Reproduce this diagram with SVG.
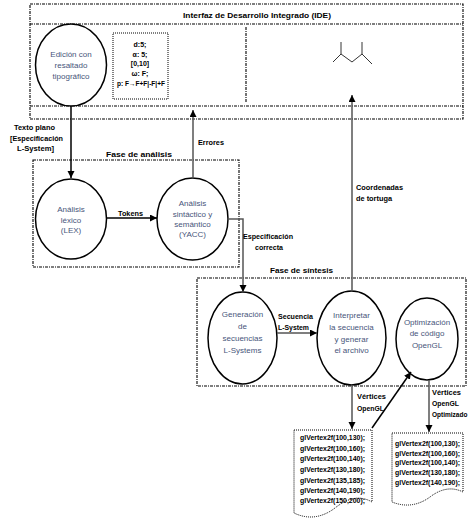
<svg xmlns="http://www.w3.org/2000/svg" width="472" height="524" viewBox="0 0 472 524">
<defs>
<marker id="ah" markerUnits="userSpaceOnUse" markerWidth="8" markerHeight="8" refX="7" refY="3.5" orient="auto">
<path d="M0,0 L7,3.5 L0,7 Z" fill="#000"/>
</marker>
<style>
.box{fill:none;stroke:#000;stroke-width:1.1;stroke-dasharray:3 1 1 1}
.dot{fill:#fff;stroke:#000;stroke-width:1;stroke-dasharray:1 1}
.node{fill:#fff;stroke:#000;stroke-width:1.5}
.nt{font-family:"Liberation Sans",Arial,sans-serif;font-size:8px;fill:#47557a;text-anchor:middle}
.lb{font-family:"Liberation Sans",Arial,sans-serif;font-size:8px;font-weight:bold;fill:#000}
.cd{font-family:"Liberation Sans",Arial,sans-serif;font-size:7px;font-weight:bold;fill:#000}
.c{fill:none;stroke:#555;stroke-width:1.5}
.cb{fill:none;stroke:#000;stroke-width:1.5}
.tree{fill:none;stroke:#000;stroke-width:0.8}
</style>
</defs>

<g id="ide">
<rect class="box" x="30" y="4" width="433" height="115"/>
<line class="box" x1="30" y1="24" x2="463" y2="24"/>
<line class="box" x1="30" y1="106" x2="463" y2="106"/>
<line class="box" x1="246" y1="27" x2="246" y2="103"/>
<text class="lb" x="183" y="18" textLength="148" lengthAdjust="spacingAndGlyphs">Interfaz de Desarrollo Integrado (IDE)</text>
</g>

<g id="edicion">
<ellipse class="node" cx="71" cy="65" rx="35.5" ry="41"/>
<text class="nt" x="71" y="57">Edición con</text>
<text class="nt" x="71" y="68">resaltado</text>
<text class="nt" x="71" y="79">tipográfico</text>
</g>

<g id="codigo">
<rect class="dot" x="113" y="33" width="55" height="66"/>
<text class="cd" x="140" y="47" text-anchor="middle">d:5;</text>
<text class="cd" x="140" y="57" text-anchor="middle">α: 5;</text>
<text class="cd" x="140" y="66" text-anchor="middle">[0,10]</text>
<text class="cd" x="140" y="76" text-anchor="middle">ω: F;</text>
<text class="cd" x="141" y="86" text-anchor="middle" textLength="48" lengthAdjust="spacingAndGlyphs">p: F→F+F|-F|+F</text>
</g>

<g id="tortuga">
<path class="tree" d="M352,62 L341,54 L341,42 M341,54 L333,62 M352,62 L362,54 L362,42 M362,54 L372,64"/>
</g>

<g id="analisis">
<rect class="box" x="33" y="160" width="206" height="107"/>
<text class="lb" x="106" y="157" textLength="66" lengthAdjust="spacingAndGlyphs">Fase de análisis</text>
</g>

<g id="lex">
<ellipse class="node" cx="71" cy="219" rx="35.5" ry="40"/>
<text class="nt" x="71" y="212">Análisis</text>
<text class="nt" x="71" y="223">léxico</text>
<text class="nt" x="71" y="233">(LEX)</text>
</g>

<g id="yacc">
<ellipse class="node" cx="192.5" cy="219" rx="35.5" ry="41"/>
<text class="nt" x="192.5" y="206">Análisis</text>
<text class="nt" x="192.5" y="217">sintáctico y</text>
<text class="nt" x="192.5" y="227">semántico</text>
<text class="nt" x="192.5" y="237">(YACC)</text>
</g>

<g id="sintesis">
<rect class="box" x="197" y="278" width="269" height="108"/>
<text class="lb" x="270" y="273" textLength="63" lengthAdjust="spacingAndGlyphs">Fase de síntesis</text>
</g>

<g id="generacion">
<ellipse class="node" cx="242.5" cy="338" rx="34.5" ry="46"/>
<text class="nt" x="242.5" y="317">Generación</text>
<text class="nt" x="242.5" y="329">de</text>
<text class="nt" x="242.5" y="341">secuencias</text>
<text class="nt" x="242.5" y="353">L-Systems</text>
</g>

<g id="interpretar">
<ellipse class="node" cx="351.5" cy="338" rx="34.5" ry="47"/>
<text class="nt" x="351.5" y="318">Interpretar</text>
<text class="nt" x="351.5" y="330">la secuencia</text>
<text class="nt" x="351.5" y="342">y generar</text>
<text class="nt" x="351.5" y="353">el archivo</text>
</g>

<g id="optimizacion">
<ellipse class="node" cx="427" cy="339" rx="31" ry="41"/>
<text class="nt" x="427" y="325">Optimización</text>
<text class="nt" x="427" y="336">de código</text>
<text class="nt" x="427" y="348">OpenGL</text>
</g>

<g id="doc1">
<path class="dot" d="M294,430 H372 V502 Q355,492 335,508 Q315,523 294,513 Z"/>
<text class="cd" x="300" y="440" textLength="65" lengthAdjust="spacingAndGlyphs">glVertex2f(100,130);</text>
<text class="cd" x="300" y="451" textLength="65" lengthAdjust="spacingAndGlyphs">glVertex2f(100,160);</text>
<text class="cd" x="300" y="461" textLength="65" lengthAdjust="spacingAndGlyphs">glVertex2f(100,140);</text>
<text class="cd" x="300" y="472" textLength="65" lengthAdjust="spacingAndGlyphs">glVertex2f(130,180);</text>
<text class="cd" x="300" y="483" textLength="65" lengthAdjust="spacingAndGlyphs">glVertex2f(135,185);</text>
<text class="cd" x="300" y="493" textLength="65" lengthAdjust="spacingAndGlyphs">glVertex2f(140,190);</text>
<text class="cd" x="300" y="503" textLength="65" lengthAdjust="spacingAndGlyphs">glVertex2f(150,200);</text>
</g>

<g id="doc2">
<path class="dot" d="M392,433 H463 V492 Q447,484 430,497 Q412,510 392,502 Z"/>
<text class="cd" x="395" y="446" textLength="65" lengthAdjust="spacingAndGlyphs">glVertex2f(100,130);</text>
<text class="cd" x="395" y="456" textLength="65" lengthAdjust="spacingAndGlyphs">glVertex2f(100,160);</text>
<text class="cd" x="395" y="465" textLength="65" lengthAdjust="spacingAndGlyphs">glVertex2f(100,140);</text>
<text class="cd" x="395" y="475" textLength="65" lengthAdjust="spacingAndGlyphs">glVertex2f(130,180);</text>
<text class="cd" x="395" y="485" textLength="65" lengthAdjust="spacingAndGlyphs">glVertex2f(140,190);</text>
</g>

<g id="connectors">
<line class="cb" x1="71" y1="106" x2="71" y2="178" marker-end="url(#ah)"/>
<line class="c" x1="193" y1="178" x2="193" y2="110" marker-end="url(#ah)"/>
<line class="cb" x1="106.5" y1="218" x2="157" y2="218" marker-end="url(#ah)"/>
<polyline class="c" points="228,219 243,219 243,292" marker-end="url(#ah)"/>
<line class="c" x1="352" y1="291" x2="352" y2="95" marker-end="url(#ah)"/>
<line class="c" x1="277" y1="333" x2="317" y2="333" marker-end="url(#ah)"/>
<line class="c" x1="352" y1="385" x2="352" y2="429" marker-end="url(#ah)"/>
<line class="cb" x1="372" y1="428" x2="411" y2="372" stroke-width="1" marker-end="url(#ah)"/>
<line class="c" x1="429" y1="380" x2="429" y2="432" marker-end="url(#ah)"/>
</g>

<g id="labels">
<text class="lb" x="14" y="130" textLength="41" lengthAdjust="spacingAndGlyphs">Texto plano</text>
<text class="lb" x="10" y="141" textLength="53" lengthAdjust="spacingAndGlyphs">[Especificación</text>
<text class="lb" x="17" y="151" textLength="37" lengthAdjust="spacingAndGlyphs">L-System]</text>
<text class="lb" x="198" y="145" textLength="26" lengthAdjust="spacingAndGlyphs">Errores</text>
<text class="lb" x="118" y="216" textLength="25" lengthAdjust="spacingAndGlyphs">Tokens</text>
<text class="lb" x="243" y="239" textLength="50" lengthAdjust="spacingAndGlyphs">Especificación</text>
<text class="lb" x="255" y="250" textLength="28" lengthAdjust="spacingAndGlyphs">correcta</text>
<text class="lb" x="356" y="190" textLength="47" lengthAdjust="spacingAndGlyphs">Coordenadas</text>
<text class="lb" x="356" y="201" textLength="36" lengthAdjust="spacingAndGlyphs">de tortuga</text>
<text class="lb" x="278" y="319" textLength="35" lengthAdjust="spacingAndGlyphs">Secuencia</text>
<text class="lb" x="278" y="330" textLength="31" lengthAdjust="spacingAndGlyphs">L-System</text>
<text class="lb" x="357" y="399" textLength="29" lengthAdjust="spacingAndGlyphs">Vértices</text>
<text class="lb" x="357" y="411" textLength="27" lengthAdjust="spacingAndGlyphs">OpenGL</text>
<text class="lb" x="432" y="395" textLength="29" lengthAdjust="spacingAndGlyphs">Vértices</text>
<text class="lb" x="432" y="406" textLength="27" lengthAdjust="spacingAndGlyphs">OpenGL</text>
<text class="lb" x="432" y="417" style="font-size:6.5px">Optimizado</text>
</g>
</svg>
